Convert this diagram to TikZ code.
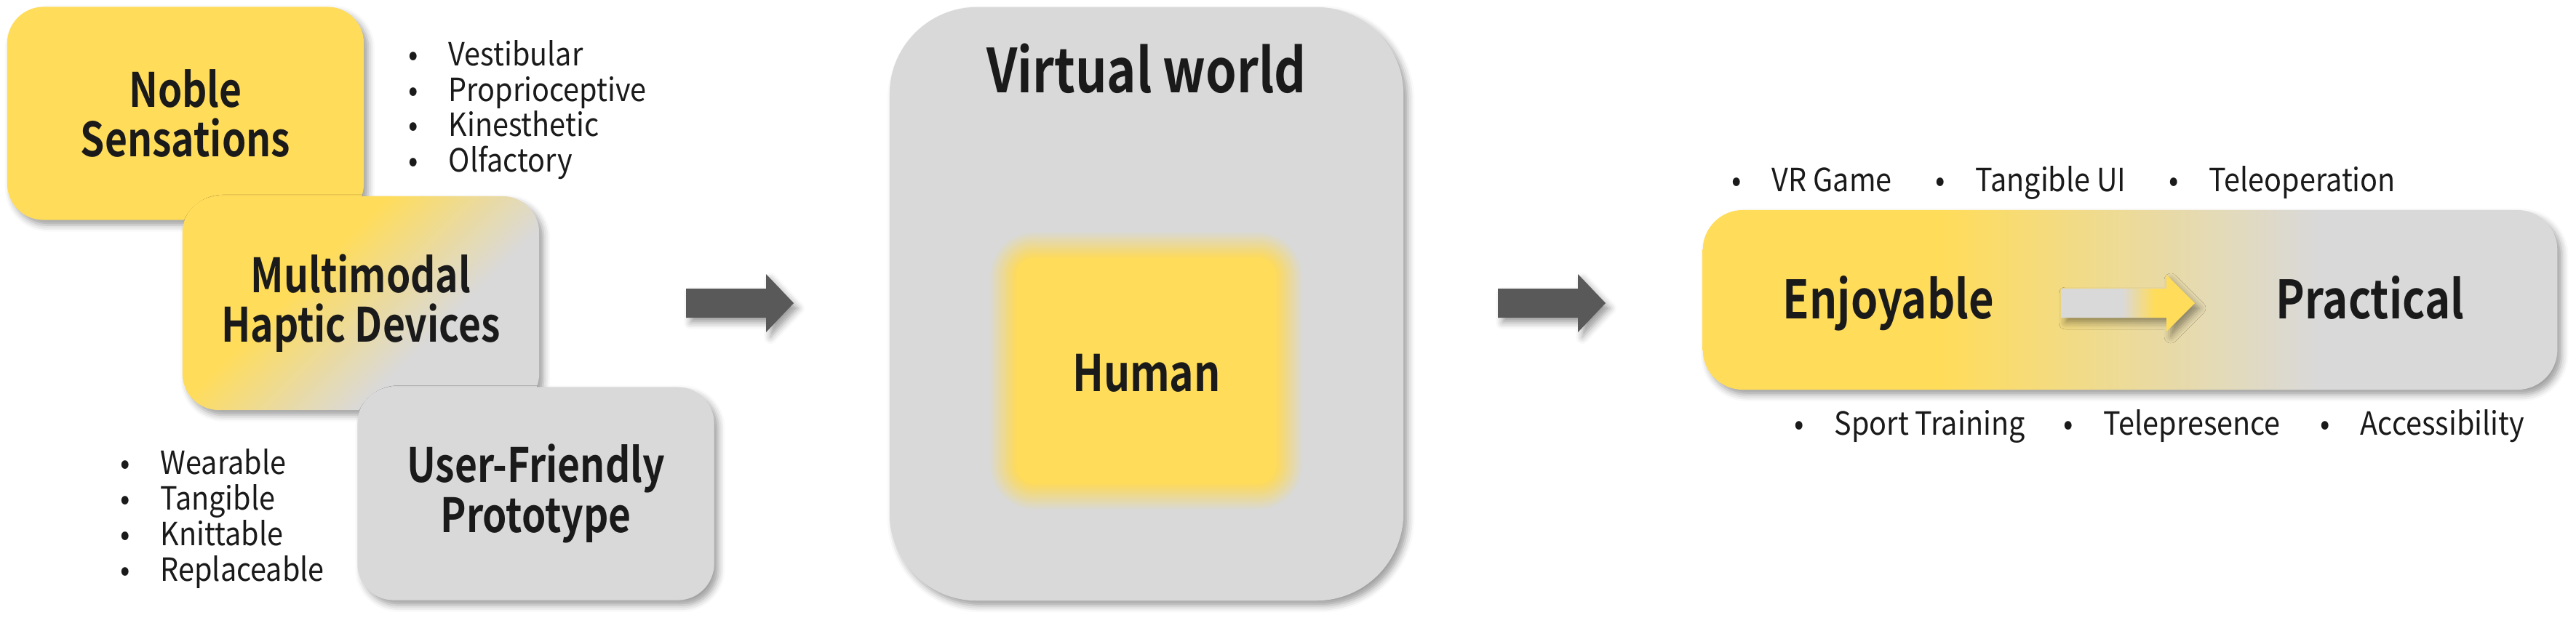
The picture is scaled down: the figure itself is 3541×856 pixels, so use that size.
\documentclass[tikz,border=0pt]{standalone}
\usepackage{fontspec}
\setmainfont{Noto Sans CJK KR}[FakeStretch=0.9]
\newfontfamily\bfnt{Noto Sans CJK KR Bold}[FakeStretch=0.82]
\usetikzlibrary{shadows.blur}
\definecolor{yel}{HTML}{FFDC5A}
\definecolor{gry}{HTML}{D9D9D9}
\definecolor{arw}{HTML}{595959}
\definecolor{txt}{HTML}{1A1A1A}
\pgfdeclareverticalshading{mmshade}{100bp}{color(0bp)=(gry); color(37bp)=(gry); color(60bp)=(yel); color(100bp)=(yel)}
\pgfdeclarehorizontalshading{epshade}{100bp}{color(0bp)=(yel); color(39bp)=(yel); color(61bp)=(gry); color(100bp)=(gry)}
\pgfdeclarehorizontalshading{arshade}{100bp}{color(0bp)=(gry); color(48bp)=(gry); color(60bp)=(yel); color(100bp)=(yel)}
\tikzset{
  shd/.style={blur shadow={shadow xshift=0.06cm, shadow yshift=-0.07cm, shadow blur radius=0.09cm, shadow opacity=38}},
  box/.style={rounded corners=0.5cm, minimum width=4.9cm, minimum height=2.93cm, inner sep=0, align=center, text=txt, font=\fontsize{18.5}{19.5}\bfnt, shd},
  item/.style={anchor=base west, inner sep=0, text=txt, font=\fontsize{12.5}{14}\selectfont},
  bigtext/.style={anchor=base, inner sep=0, text=txt, font=\fontsize{20.7}{24}\bfnt},
  blockarrow/.style={fill=arw, shd}
}
\newcommand{\bul}{\makebox[0.55cm][l]{•}}
\begin{document}
\begin{tikzpicture}[x=0.01cm, y=-0.01cm]
\useasboundingbox (0,0) rectangle (3541,856);
% left boxes
\node[box, fill=yel] (b1) at (255,156) {Noble\\Sensations};
\node[box, shading=mmshade, shading angle=45, minimum height=2.94cm] (b2) at (496,417) {Multimodal\\Haptic Devices};
\node[box, fill=gry] (b3) at (736.5,679) {User-Friendly\\Prototype};
% lists
\node[item] (l1) at (561,90) {\bul Vestibular};
\node[item] (l2) at (561,139) {\bul Proprioceptive};
\node[item] (l3) at (561,187) {\bul Kinesthetic};
\node[item] (l4) at (561,236) {\bul Olfactory};
\node[item] (m1) at (165,652) {\bul Wearable};
\node[item] (m2) at (165,701) {\bul Tangible};
\node[item] (m3) at (165,750) {\bul Knittable};
\node[item] (m4) at (165,799) {\bul Replaceable};
% arrow 1
\path[blockarrow] (943,397) -- (1053,397) -- (1053,377) -- (1091,417) -- (1053,457) -- (1053,437) -- (943,437) -- cycle;
% virtual world
\node[rounded corners=1.2cm, fill=gry, minimum width=7.06cm, minimum height=8.16cm, inner sep=0, shd] (vw) at (1576,418) {};
\node[anchor=base, inner sep=0, text=txt, font=\fontsize{23.7}{28}\bfnt] (vwt) at (1576,127) {Virtual world};
% human glow: linear fade built from layers
\foreach \i in {0,...,18}{
  \pgfmathsetmacro\e{36-2*\i}
  \pgfmathsetmacro\al{1/(19-\i)}
  \pgfmathsetmacro\rc{0.25+0.01*\e}
  \fill[yel, fill opacity=\al, rounded corners=\rc cm] ({1397-\e},{355-\e}) rectangle ({1754+\e},{665+\e});
}
\node[bigtext, font=\fontsize{19.7}{24}\bfnt] (human) at (1576,538) {Human};
% arrow 2
\path[blockarrow] (2059,397) -- (2169,397) -- (2169,377) -- (2207,417) -- (2169,457) -- (2169,437) -- (2059,437) -- cycle;
% right box
\node[rounded corners=0.55cm, shading=epshade, minimum width=11.74cm, minimum height=2.47cm, inner sep=0, shd] (ep) at (2928,412.5) {};
\node[bigtext] (enj) at (2596,438) {Enjoyable};
\node[bigtext] (pra) at (3258,438) {Practical};
\path[shading=arshade, shd] (2833,397) -- (2978,397) -- (2978,378) -- (3017,417) -- (2978,456) -- (2978,437) -- (2833,437) -- cycle;
% right lists
\node[item] (r1) at (2380,263) {\bul VR Game};
\node[item] (r2) at (2660,263) {\bul Tangible UI};
\node[item] (r3) at (2981,263) {\bul Teleoperation};
\node[item] (s1) at (2466,598) {\bul Sport Training};
\node[item] (s2) at (2836,598) {\bul Telepresence};
\node[item] (s3) at (3189,598) {\bul Accessibility};
\end{tikzpicture}
\end{document}
